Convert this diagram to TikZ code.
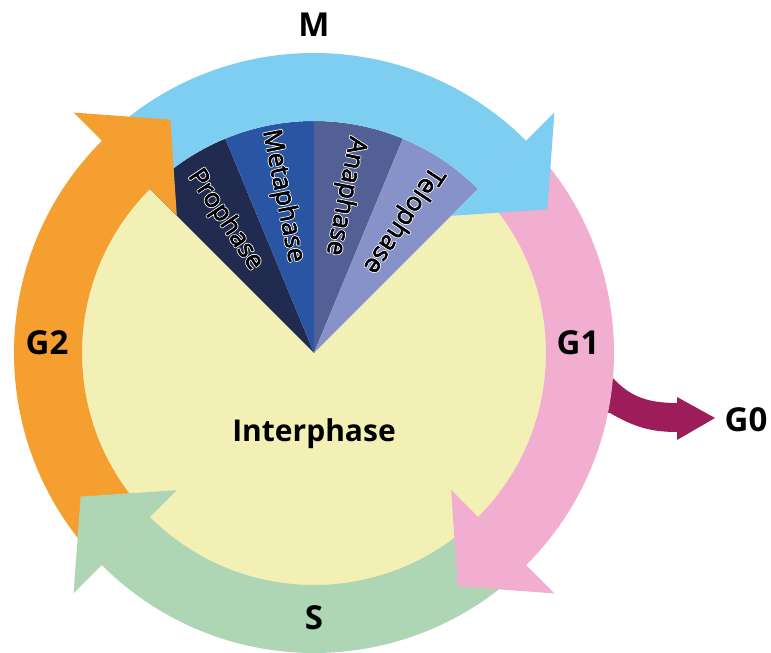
\documentclass[tikz,border=0pt]{standalone}
\usepackage{fontspec}
\setmainfont{Open Sans}
\newcommand{\haloText}[1]{%
  \rlap{\special{pdf:literal direct 1 Tr 0.97 0.97 0.97 RG 2.3 w 1 j}#1}%
  \special{pdf:literal direct 2 Tr 0 0 0 RG 0.6 w 1 j}#1\special{pdf:literal direct 0 Tr}}
\definecolor{mblue}{HTML}{7ECEF2}
\definecolor{yellowc}{HTML}{F2F0B4}
\definecolor{orangec}{HTML}{F59F30}
\definecolor{pinkc}{HTML}{F2AED0}
\definecolor{greenc}{HTML}{AED6B4}
\definecolor{maroonc}{HTML}{9D1C5A}
\definecolor{proc}{HTML}{212B50}
\definecolor{metac}{HTML}{2A55A2}
\definecolor{anac}{HTML}{536095}
\definecolor{teloc}{HTML}{8792C8}
\begin{document}
\begin{tikzpicture}[x=1pt,y=1pt,
  phaselab/.style={font=\fontsize{26}{26}\selectfont, text=black, inner sep=0pt},
  biglab/.style={font=\fontsize{33}{33}\selectfont\bfseries, anchor=base, inner sep=0pt}]
\useasboundingbox (0,0) rectangle (771,653);
\begin{scope}[shift={(314,300)}]
% interphase disc
\fill[yellowc] (0,0) -- (135:233) arc[start angle=135,end angle=405,radius=233] -- cycle;
% mitosis wedges
\fill[proc]  (0,0) -- (112.5:232) arc[start angle=112.5,end angle=135,radius=232] -- cycle;
\fill[metac] (0,0) -- (90:232) arc[start angle=90,end angle=112.5,radius=232] -- cycle;
\fill[anac]  (0,0) -- (67.5:232) arc[start angle=67.5,end angle=90,radius=232] -- cycle;
\fill[teloc] (0,0) -- (45:232) arc[start angle=45,end angle=67.5,radius=232] -- cycle;
% G0 branch
\fill[maroonc] (292,-24) -- (299,-25) to[out=-48,in=180] (363,-50) -- (363,-44) -- (401,-65)
  -- (363,-87) -- (363,-79) to[out=180,in=-30] (296,-60) -- (289,-59) -- cycle;
% bands
\fill[mblue]   (135:300) arc[start angle=135,end angle=45,radius=300] -- (45:232) arc[start angle=45,end angle=135,radius=232] -- cycle;
\fill[pinkc]   (45:300) arc[start angle=45,end angle=-45,radius=300] -- (-45:232) arc[start angle=-45,end angle=45,radius=232] -- cycle;
\fill[greenc]  (-45:300) arc[start angle=-45,end angle=-135,radius=300] -- (-135:232) arc[start angle=-135,end angle=-45,radius=232] -- cycle;
\fill[orangec] (225:300) arc[start angle=225,end angle=135,radius=300] -- (135:232) arc[start angle=135,end angle=225,radius=232] -- cycle;
% heads
\fill[mblue]   (45:194) -- (45:340) -- (31.6:274) -- cycle;
\fill[pinkc]   (-45:194) -- (-45:340) -- (-58.4:274) -- cycle;
\fill[greenc]  (-135:194) -- (-135:340) -- (-148.4:274) -- cycle;
\fill[orangec] (135:194) -- (135:340) -- (121.6:274) -- cycle;
% phase labels
\node[phaselab, rotate=-56.25]  (pro)  at (123.75:160) {\haloText{Prophase}};
\node[phaselab, rotate=-78.75]  (meta) at (101.25:160) {\haloText{Metaphase}};
\node[phaselab, rotate=-101.25] (ana)  at (78.75:160)  {\haloText{Anaphase}};
\node[phaselab, rotate=-123.75] (telo) at (56.25:160)  {\haloText{Telophase}};
% big labels
\node[biglab] (m)  at (0,316) {M};
\node[biglab] (g2) at (-267,-2) {G2};
\node[biglab] (g1) at (264,-2) {G1};
\node[biglab] (g0) at (432,-79) {G0};
\node[biglab] (s)  at (0,-277) {S};
\node[biglab, font=\fontsize{30}{30}\selectfont\bfseries] (inter) at (0,-89) {Interphase};
\end{scope}
\end{tikzpicture}
\end{document}
